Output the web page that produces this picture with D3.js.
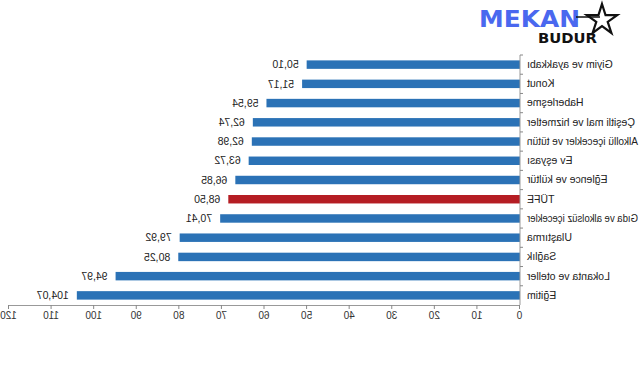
<!DOCTYPE html>
<html><head><meta charset="utf-8">
<script src="https://cdn.jsdelivr.net/npm/d3@7"></script>
<style>
html,body{margin:0;padding:0;background:#fff;}
svg{display:block;font-family:"Liberation Sans",Arial,sans-serif;}
</style></head>
<body><svg id="c" width="641" height="380"></svg>
<script>
const categories = ["Giyim ve ayakkabı","Konut","Haberleşme","Çeşitli mal ve hizmetler","Alkollü içecekler ve tütün","Ev eşyası","Eğlence ve kültür","TÜFE","Gıda ve alkolsüz içecekler","Ulaştırma","Sağlık","Lokanta ve oteller","Eğitim"];
const values = [50.10,51.17,59.54,62.74,62.98,63.72,66.85,68.50,70.41,79.92,80.25,94.97,104.07];
const highlight = ["TÜFE"];
const xTicks = [0,10,20,30,40,50,60,70,80,90,100,110,120];

const svg = d3.select("#c");
const W = 641;
// reference image is horizontally mirrored: draw normally, then mirror
const g = svg.append("g").attr("transform",`translate(${W},0) scale(-1,1)`);

const x = d3.scaleLinear().domain([0,120]).range([121,632]);
const y = d3.scaleBand().domain(categories).range([55,305]).paddingInner(0.56).paddingOuter(0.28);
const fmt = v => d3.format(".2f")(v).replace(".",",");

// bars
g.selectAll("rect.bar").data(categories).join("rect")
  .attr("class","bar")
  .attr("x",x(0))
  .attr("y",d=>y(d))
  .attr("height",y.bandwidth())
  .attr("width",(d,i)=>x(values[i])-x(0))
  .attr("fill",d=>highlight.includes(d)?"#b51d23":"#2b72b6");

// value labels
g.selectAll("text.val").data(categories).join("text")
  .attr("class","val")
  .attr("x",(d,i)=>x(values[i])+8)
  .attr("y",d=>y(d)+y.bandwidth()/2)
  .attr("dy","0.35em")
  .attr("font-size",10.5)
  .attr("fill","#222")
  .text((d,i)=>fmt(values[i]));

// bottom axis
const xa = g.append("g").attr("transform","translate(0,305)")
  .call(d3.axisBottom(x).tickValues(xTicks).tickSize(4).tickPadding(3).tickFormat(d=>d));
xa.select(".domain").attr("stroke","#999");
xa.selectAll(".tick line").attr("stroke","#888");
xa.selectAll(".tick text").attr("font-size",10).attr("fill","#333").attr("font-family","Liberation Sans, Arial, sans-serif");

// left (category) axis
const ya = g.append("g").attr("transform",`translate(${x(0)},0)`)
  .call(d3.axisLeft(y).tickSize(0).tickPadding(7));
ya.select(".domain").remove();
ya.selectAll(".tick text").attr("font-size",10.5).attr("fill","#222").attr("font-family","Liberation Sans, Arial, sans-serif")
  .each(function(){ const w=this.getComputedTextLength(); const maxW=111; if(w>maxW){ d3.select(this).attr("textLength",maxW).attr("lengthAdjust","spacingAndGlyphs"); } });
const [r0,r1] = y.range();
g.append("line").attr("x1",x(0)).attr("x2",x(0)).attr("y1",r0).attr("y2",r1).attr("stroke","#999");
const half = y.step()*y.paddingInner()/2;
g.selectAll("line.ct").data(categories).join("line").attr("class","ct")
  .attr("x1",x(0)-3).attr("x2",x(0))
  .attr("y1",d=>y(d)-half).attr("y2",d=>y(d)-half)
  .attr("stroke","#888");

// logo (not mirrored)
const logo = svg.append("g");
logo.append("text").attr("x",479).attr("y",27).attr("font-family","DejaVu Sans, sans-serif")
  .attr("font-weight","bold").attr("font-size",23).attr("fill","#4a68ef")
  .attr("textLength",101).attr("lengthAdjust","spacingAndGlyphs").text("MEKAN");
logo.append("text").attr("x",538).attr("y",43).attr("font-family","DejaVu Sans, sans-serif")
  .attr("font-weight","bold").attr("font-size",14).attr("fill","#111")
  .attr("textLength",59).attr("lengthAdjust","spacingAndGlyphs").text("BUDUR");
const star = d3.range(10).map(i=>{const a=-Math.PI/2+i*Math.PI/5, r=i%2?6:16; return [602+r*Math.cos(a), 20+r*Math.sin(a)];});
logo.append("path").attr("d","M"+star.join("L")+"Z").attr("fill","none").attr("stroke","#111").attr("stroke-width",2.2);
logo.append("line").attr("x1",576).attr("x2",600).attr("y1",17).attr("y2",17).attr("stroke","#111").attr("stroke-width",1.5);
</script></body></html>
